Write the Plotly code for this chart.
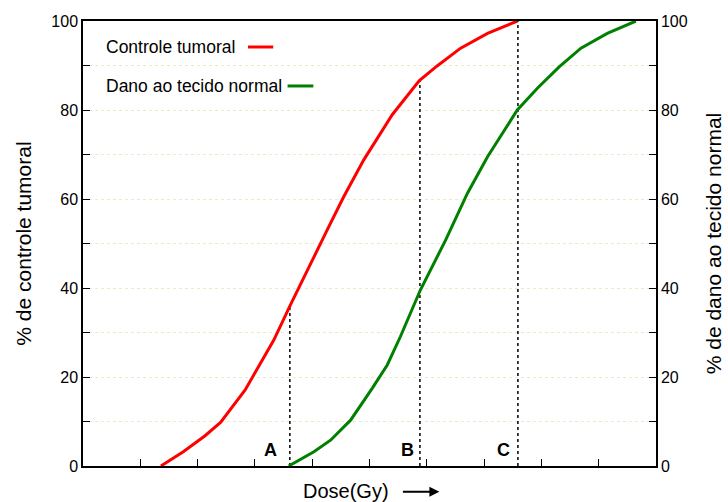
import plotly.graph_objects as go

# Data
red_x = [1.36, 1.75, 2.13, 2.40, 2.83, 3.33, 3.62, 3.97, 4.26, 4.55, 4.90, 5.40, 5.87, 6.18, 6.59, 7.06, 7.58]
red_y = [0.0, 3.2, 6.8, 9.8, 17.1, 28.3, 36.2, 45.5, 53.0, 60.5, 68.8, 79.0, 86.6, 89.9, 93.9, 97.2, 100.0]
green_x = [3.59, 4.03, 4.32, 4.67, 5.05, 5.31, 5.54, 5.89, 6.33, 6.71, 7.06, 7.58, 7.93, 8.31, 8.69, 9.15, 9.65]
green_y = [0.0, 3.2, 5.8, 10.3, 17.5, 22.7, 29.1, 39.6, 50.8, 61.3, 69.5, 80.0, 84.9, 89.7, 93.9, 97.2, 100.0]
marker_labels = ["A", "B", "C"]
marker_x = [3.61, 5.88, 7.59]
marker_top = [36.2, 86.6, 100.0]
label_x = [3.27, 5.66, 7.33]
y_ticks = [0, 20, 40, 60, 80, 100]

FONT = "Liberation Sans, Arial, sans-serif"

fig = go.Figure()
for lx, lt in zip(marker_x, marker_top):
    fig.add_trace(go.Scatter(x=[lx, lx], y=[0, lt], mode="lines",
                             line=dict(color="black", width=1.5, dash="dot"),
                             showlegend=False, hoverinfo="skip"))
fig.add_trace(go.Scatter(x=red_x, y=red_y, mode="lines", name="Controle tumoral",
                         line=dict(color="#ff0000", width=3), showlegend=False))
fig.add_trace(go.Scatter(x=green_x, y=green_y, mode="lines", name="Dano ao tecido normal",
                         line=dict(color="#008000", width=3), showlegend=False))
# invisible trace to activate right axis
fig.add_trace(go.Scatter(x=[0], y=[0], yaxis="y2", mode="lines",
                         line=dict(width=0), showlegend=False, hoverinfo="skip"))

axis_common = dict(range=[0, 100], tickvals=y_ticks, ticks="inside", ticklen=7,
                   tickwidth=1.2, tickcolor="black", showline=True, linecolor="black",
                   linewidth=1.5, showgrid=False, zeroline=False, automargin=False,
                   tickfont=dict(family=FONT, size=16, color="black"),
                   minor=dict(ticks="inside", dtick=10, tick0=0, ticklen=7, tickcolor="black",
                              showgrid=True, gridcolor="#ecebc8", griddash="dot", gridwidth=1))

fig.update_layout(
    width=728, height=502,
    margin=dict(l=83, r=72, t=21, b=36),
    plot_bgcolor="white", paper_bgcolor="white",
    xaxis=dict(range=[0, 10], dtick=1, tick0=0, ticks="inside", ticklen=7, tickcolor="black",
               tickwidth=1.2, showticklabels=False, showline=True, linecolor="black",
               linewidth=1.5, mirror=True, showgrid=False, zeroline=False, automargin=False),
    yaxis=dict(**axis_common,
               title=dict(text="% de controle tumoral", standoff=14,
                          font=dict(family=FONT, size=21, color="black"))),
    yaxis2=dict(**axis_common, overlaying="y", side="right",
                title=dict(text="% de dano ao tecido normal", standoff=20,
                           font=dict(family=FONT, size=21, color="black"))),
)

# legend (text with line swatch on the right, as in reference)
legend_items = [("Controle tumoral", 0.9416), ("Dano ao tecido normal", 0.854)]
for txt, yy in legend_items:
    fig.add_annotation(x=0.036, y=yy, xref="paper", yref="paper", text=txt, showarrow=False,
                       xanchor="left", yanchor="middle",
                       font=dict(family=FONT, size=17.5, color="black"))

fig.add_shape(type="line", xref="paper", yref="paper", x0=0.288, x1=0.332, y0=0.9416, y1=0.9416,
              line=dict(color="#ff0000", width=3))
fig.add_shape(type="line", xref="paper", yref="paper", x0=0.357, x1=0.402, y0=0.854, y1=0.854,
              line=dict(color="#008000", width=3))

# A, B, C labels
for lab, lx in zip(marker_labels, label_x):
    fig.add_annotation(x=lx, y=3.7, text=f"<b>{lab}</b>", showarrow=False,
                       xanchor="center", yanchor="middle",
                       font=dict(family=FONT, size=18, color="black"))

# x-axis title with arrow
fig.add_annotation(x=0.459, y=-0.057, xref="paper", yref="paper", text="Dose(Gy)",
                   showarrow=False, xanchor="center", yanchor="middle",
                   font=dict(family=FONT, size=20, color="black"))
fig.add_annotation(x=0.622, y=-0.058, xref="paper", yref="paper", ax=-38, ay=0,
                   text="", showarrow=True,
                   arrowhead=2, arrowsize=1, arrowwidth=2, arrowcolor="black")

fig.write_html("out.html")
